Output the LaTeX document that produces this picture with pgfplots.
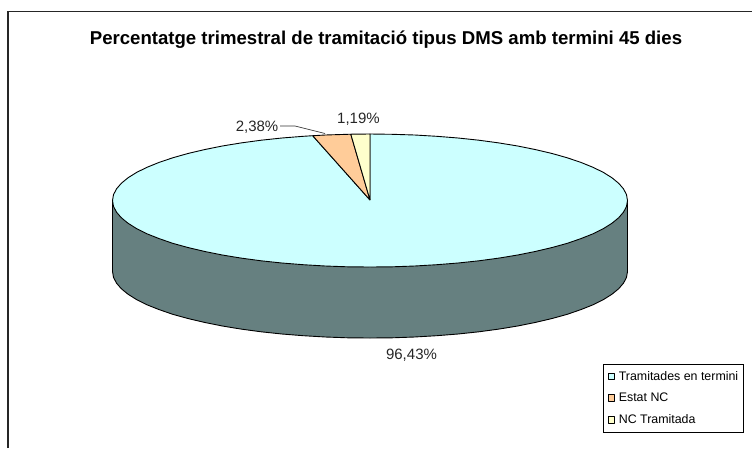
\documentclass[border=0pt]{standalone}
\usepackage{fontspec}
\setmainfont{Liberation Sans}
\usepackage{pgfplots}
\pgfplotsset{compat=1.18}
\definecolor{mainc}{HTML}{CCFFFF}
\definecolor{sidec}{HTML}{668080}
\definecolor{orangec}{HTML}{FFCC99}
\definecolor{yellowc}{HTML}{FFFFCC}
\begin{document}
\begin{tikzpicture}
\begin{axis}[
    scale only axis, width=752pt, height=448pt,
    xmin=0, xmax=752, ymin=0, ymax=448, y dir=reverse,
    hide axis,
    legend cell align=left,
    legend style={at={(axis cs:743.7,432.5)}, anchor=south east, draw=black, line width=0.9pt,
        font=\fontsize{12.4}{14}\selectfont, row sep=7.5pt, inner xsep=3pt, inner ysep=4.8pt,
        /tikz/every even column/.append style={column sep=0pt}},
    legend image code/.code={\draw[#1, line width=0.9pt] (2pt,-3.3pt) rectangle (8.6pt,3.3pt); \path[draw=none, fill=none] (0pt,0pt) -- (10.6pt,0pt);},
]
% chart frame, only top and left edges are in the image
\addplot[forget plot, draw=black!85, line width=1.3pt] coordinates {(8,448) (8,11.5) (752,11.5)};
% side wall
\addplot[forget plot, fill=sidec, draw=black, line width=0.9pt, line join=round] coordinates {
 (627.5,200.5) (627.5,271.5) (626.5,277.3) (623.6,283.0) (618.7,288.7) (612.0,294.2) (603.4,299.6)
 (593.0,304.8) (580.9,309.6) (567.3,314.3) (552.1,318.5) (535.5,322.4) (517.7,326.0) (498.8,329.1)
 (478.8,331.8) (458.1,334.0) (436.7,335.7) (414.7,337.0) (392.4,337.8) (370.0,338.0) (347.6,337.8)
 (325.3,337.0) (303.3,335.7) (281.9,334.0) (261.2,331.8) (241.2,329.1) (222.3,326.0) (204.5,322.4)
 (187.9,318.5) (172.7,314.3) (159.1,309.6) (147.0,304.8) (136.6,299.6) (128.0,294.2) (121.3,288.7)
 (116.4,283.0) (113.5,277.3) (112.5,271.5) (112.5,200.5) (627.5,200.5)
};
% 96,43 slice
\addplot[fill=mainc, draw=black, line width=0.9pt, line join=round] coordinates {
 (370,200) (370.0,134.0) (392.4,134.3) (414.7,135.0) (436.7,136.3) (458.1,138.0) (478.8,140.2)
 (498.8,142.9) (517.7,146.0) (535.5,149.6) (552.1,153.5) (567.3,157.8) (580.9,162.4) (593.0,167.3)
 (603.4,172.4) (612.0,177.8) (618.7,183.3) (623.6,189.0) (626.5,194.7) (627.5,200.5) (626.5,206.3)
 (623.6,212.0) (618.7,217.7) (612.0,223.2) (603.4,228.6) (593.0,233.8) (580.9,238.6) (567.3,243.3)
 (552.1,247.5) (535.5,251.4) (517.7,255.0) (498.8,258.1) (478.8,260.8) (458.1,263.0) (436.7,264.7)
 (414.7,266.0) (392.4,266.8) (370.0,267.0) (347.6,266.8) (325.3,266.0) (303.3,264.7) (281.9,263.0)
 (261.2,260.8) (241.2,258.1) (222.3,255.0) (204.5,251.4) (187.9,247.5) (172.7,243.3) (159.1,238.6)
 (147.0,233.8) (136.6,228.6) (128.0,223.2) (121.3,217.7) (116.4,212.0) (113.5,206.3) (112.5,200.5)
 (113.5,194.7) (116.4,189.0) (121.3,183.3) (128.0,177.8) (136.6,172.4) (147.0,167.3) (159.1,162.4)
 (172.7,157.8) (187.9,153.5) (204.5,149.6) (222.3,146.0) (241.2,142.9) (261.2,140.2) (281.9,138.0)
 (303.3,136.3) (312.7,135.7) (370,200)
};
\addlegendentry{Tramitades en termini}
% 2,38 slice
\addplot[fill=orangec, draw=black, line width=0.9pt, line join=round] coordinates {
 (370,200) (312.7,135.7) (325.3,135.0) (347.6,134.3) (350.8,134.2) (370,200)
};
\addlegendentry{Estat NC}
% 1,19 slice
\addplot[fill=yellowc, draw=black, line width=0.9pt, line join=round] coordinates {
 (370,200) (350.8,134.2) (370.0,134.0) (370,200)
};
\addlegendentry{NC Tramitada}
% leader line of the 2,38 label
\addplot[forget plot, draw=black!80, line width=0.7pt] coordinates {(280,126) (295,126) (325,133.5)};

\node[anchor=base, font=\fontsize{18.6}{20}\selectfont\bfseries] at (axis cs:386,44) {Percentatge trimestral de tramitació tipus DMS amb termini 45 dies};
\node[anchor=center, font=\fontsize{15}{17}\selectfont, text=black!85] at (axis cs:358.5,119.3) {1,19\%};
\node[anchor=east, font=\fontsize{15}{17}\selectfont, text=black!85, inner sep=0pt] at (axis cs:278.5,127) {2,38\%};
\node[anchor=center, font=\fontsize{15}{17}\selectfont, text=black!85] at (axis cs:411.5,355) {96,43\%};
\end{axis}
\path[use as bounding box] (0,0) rectangle (752pt,448pt);
\end{tikzpicture}
\end{document}
